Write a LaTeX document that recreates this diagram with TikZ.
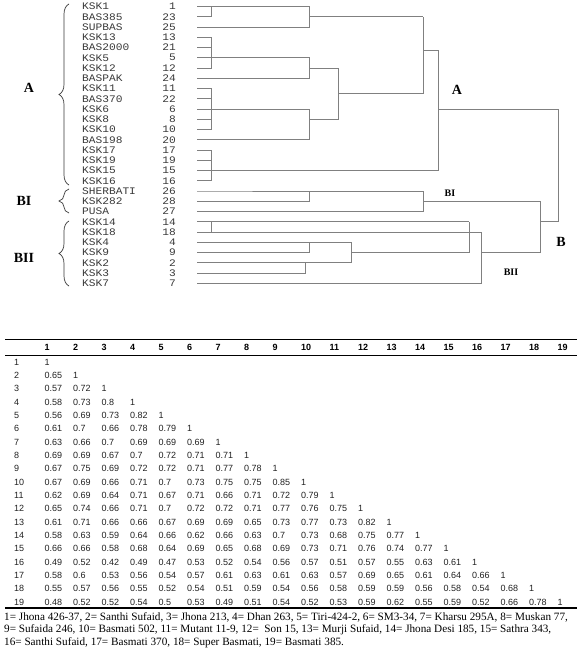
\documentclass[tikz,border=0pt]{standalone}
\usepackage{fontspec}
\setmainfont{Liberation Serif}
\newfontfamily\dendfont[FakeStretch=1.12]{Liberation Mono}
\newfontfamily\tabfont{Liberation Sans}
\usetikzlibrary{decorations.pathreplacing}
\definecolor{lineC}{HTML}{808080}
\definecolor{textC}{HTML}{3A3A3A}
\definecolor{tabC}{HTML}{222222}
\tikzset{
  leaf/.style={anchor=west, inner sep=0pt, font=\dendfont\fontsize{10}{10}\selectfont, text=textC},
  leafnum/.style={leaf, anchor=east},
  dend/.style={draw=lineC, line width=0.8pt},
  grpBig/.style={inner sep=0pt, font=\fontsize{14}{14}\selectfont\bfseries},
  grpSmall/.style={inner sep=0pt, font=\fontsize{10}{10}\selectfont\bfseries},
  brc/.style={draw=textC, line width=0.7pt, decorate, decoration={brace, amplitude=10pt}},
  cell/.style={anchor=west, inner sep=0pt, font=\tabfont\fontsize{9}{9}\selectfont, text=tabC},
  hcell/.style={cell, font=\tabfont\bfseries\fontsize{9}{9}\selectfont, text=black},
  note/.style={anchor=west, inner sep=0pt, font=\fontsize{11.2}{12}\selectfont}
}
\begin{document}
\begin{tikzpicture}[x=1pt, y=-1pt]
  \fill[white] (0,0) rectangle (586,655);
  \useasboundingbox (0,0) rectangle (586,655);

  % ── Leaves ──
  \foreach \nm/\nr [count=\i from 0] in {KSK1/1, BAS385/23, SUPBAS/25, KSK13/13, BAS2000/21, KSK5/5, KSK12/12, BASPAK/24, KSK11/11, BAS370/22, KSK6/6, KSK8/8, KSK10/10, BAS198/20, KSK17/17, KSK19/19, KSK15/15, KSK16/16, SHERBATI/26, KSK282/28, PUSA/27, KSK14/14, KSK18/18, KSK4/4, KSK9/9, KSK2/2, KSK3/3, KSK7/7} {
    \node[leaf] (nm\i) at (82, 6.5+\i*10.25) {\nm};
    \node[leafnum] (nr\i) at (176, 6.5+\i*10.25) {\nr};
    \coordinate (r\i) at (197, 6.5+\i*10.25);
  }

  % ── Merge levels ──
  \coordinate (c1) at (211,0);
  \coordinate (c2) at (309,0);
  \coordinate (c2b) at (305,0);
  \coordinate (c3) at (338,0);
  \coordinate (c4) at (351,0);
  \coordinate (c5) at (423,0);
  \coordinate (c6) at (438,0);
  \coordinate (c7) at (469,0);
  \coordinate (c8) at (481,0);
  \coordinate (c9) at (540,0);
  \coordinate (c10) at (558,0);
  \coordinate (m1) at (338,93.6);
  \coordinate (m2) at (423,50);

  % ── Cluster A ──
  \draw[dend] (r1) -- (r1 -| c1) |- (r0) -- (r0 -| c2) |- (r2);
  \draw[dend] (r1 -| c2) -- (r1 -| c5);
  \draw[dend] (r3) -- (r3 -| c1) |- (r6);
  \draw[dend] (r4) -- (r4 -| c1);
  \draw[dend] (r5) -- (r5 -| c2) |- (r7);
  \draw[dend] (r6 -| c2) -- (r6 -| c3);
  \draw[dend] (r8) -- (r8 -| c1) |- (r12);
  \draw[dend] (r9) -- (r9 -| c1);
  \draw[dend] (r11) -- (r11 -| c1);
  \draw[dend] (r10) -- (r10 -| c2) |- (r13);
  \draw[dend] (r11 -| c2) -- (r11 -| c3) -- (r6 -| c3);
  \draw[dend] (m1) -- (m1 -| c5) -- (r1 -| c5);
  \draw[dend] (r14) -- (r14 -| c1) |- (r17);
  \draw[dend] (r15) -- (r15 -| c1);
  \draw[dend] (r16) -- (r16 -| c6) |- (m2);
  \draw[dend] (r10 -| c6) -- (r10 -| c10);

  % ── Cluster B ──
  \draw[dend] (r19) -- (r19 -| c2) |- (r18) -- (r18 -| c5) |- (r20);
  \draw[dend] (r19 -| c5) -- (r19 -| c9);
  \draw[dend] (r22) -- (r22 -| c1) |- (r21) -- (r21 -| c7);
  \draw[dend] (r24) -- (r24 -| c2) |- (r23) -- (r23 -| c4) |- (r25);
  \draw[dend] (r26) -- (r26 -| c2b) |- (r25);
  \draw[dend] (r24 -| c4) -- (r24 -| c7) -- (r21 -| c7);
  \draw[dend] (r22 -| c7) -- (r22 -| c8);
  \draw[dend] (r27) -- (r27 -| c8) |- (r22);
  \draw[dend] (r24 -| c8) -- (r24 -| c9) -- (r19 -| c9);
  \draw[dend] (r21 -| c9) -- (r21 -| c10) -- (r10 -| c10);

  % ── Group labels ──
  \draw[brc] (69,185) -- (69,4);
  \draw[brc] (69,213) -- (69,189);
  \draw[brc] (69,286) -- (69,221);
  \node[grpBig] (gA) at (29,88) {A};
  \node[grpBig] (gBI) at (24,201) {BI};
  \node[grpBig] (gBII) at (24,258) {BII};
  \node[grpBig] (tA) at (457,90) {A};
  \node[grpBig] (tB) at (561,242) {B};
  \node[grpSmall] (tBI) at (450,193) {BI};
  \node[grpSmall] (tBII) at (511,272) {BII};

  % ── Similarity matrix ──
  \draw[line width=0.7pt] (5,339.5) -- (577,339.5);
  \draw[line width=1pt] (5,355) -- (577,355);
  \draw[line width=1.6pt] (5,608) -- (577,608);
  \foreach \j in {1,...,19}
    \node[hcell] (h\j) at (44.5+\j*28.5-28.5, 347.5) {\j};
  \foreach \row [count=\i] in {{1}, {0.65,1}, {0.57,0.72,1}, {0.58,0.73,0.8,1}, {0.56,0.69,0.73,0.82,1},
    {0.61,0.7,0.66,0.78,0.79,1}, {0.63,0.66,0.7,0.69,0.69,0.69,1}, {0.69,0.69,0.67,0.7,0.72,0.71,0.71,1},
    {0.67,0.75,0.69,0.72,0.72,0.71,0.77,0.78,1}, {0.67,0.69,0.66,0.71,0.7,0.73,0.75,0.75,0.85,1},
    {0.62,0.69,0.64,0.71,0.67,0.71,0.66,0.71,0.72,0.79,1}, {0.65,0.74,0.66,0.71,0.7,0.72,0.72,0.71,0.77,0.76,0.75,1},
    {0.61,0.71,0.66,0.66,0.67,0.69,0.69,0.65,0.73,0.77,0.73,0.82,1},
    {0.58,0.63,0.59,0.64,0.66,0.62,0.66,0.63,0.7,0.73,0.68,0.75,0.77,1},
    {0.66,0.66,0.58,0.68,0.64,0.69,0.65,0.68,0.69,0.73,0.71,0.76,0.74,0.77,1},
    {0.49,0.52,0.42,0.49,0.47,0.53,0.52,0.54,0.56,0.57,0.51,0.57,0.55,0.63,0.61,1},
    {0.58,0.6,0.53,0.56,0.54,0.57,0.61,0.63,0.61,0.63,0.57,0.69,0.65,0.61,0.64,0.66,1},
    {0.55,0.57,0.56,0.55,0.52,0.54,0.51,0.59,0.54,0.56,0.58,0.59,0.59,0.56,0.58,0.54,0.68,1},
    {0.48,0.52,0.52,0.54,0.5,0.53,0.49,0.51,0.54,0.52,0.53,0.59,0.62,0.55,0.59,0.52,0.66,0.78,1}} {
    \node[cell] (rl\i) at (14, 362+\i*13.33-13.33) {\i};
    \foreach \v [count=\j] in \row
      \node[cell] (v\i-\j) at (44.5+\j*28.5-28.5, 362+\i*13.33-13.33) {\v};
  }

  % ── Key ──
  \node[note] (key1) at (4,617) {1= Jhona 426-37, 2= Santhi Sufaid, 3= Jhona 213, 4= Dhan 263, 5= Tiri-424-2, 6= SM3-34, 7= Kharsu 295A, 8= Muskan 77,};
  \node[note] (key2) at (4,630) {9= Sufaida 246, 10= Basmati 502, 11= Mutant 11-9, 12=\ \ Son 15, 13= Murji Sufaid, 14= Jhona Desi 185, 15= Sathra 343,};
  \node[note] (key3) at (4,643) {16= Santhi Sufaid, 17= Basmati 370, 18= Super Basmati, 19= Basmati 385.};
\end{tikzpicture}
\end{document}
